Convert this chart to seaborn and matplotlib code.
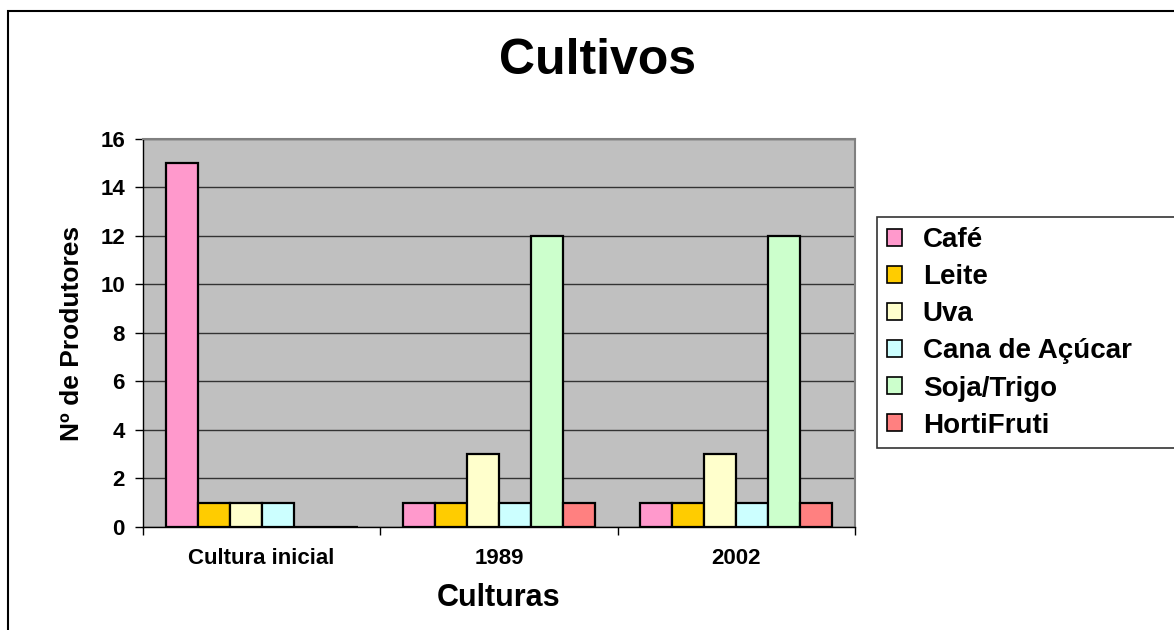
import seaborn as sns
import pandas as pd
from matplotlib import pyplot as plt
from matplotlib.patches import Rectangle

periods = ['Cultura inicial', '1989', '2002']
crops = ['Café', 'Leite', 'Uva', 'Cana de Açúcar', 'Soja/Trigo', 'HortiFruti']
colors = ['#FF99CC', '#FFCC00', '#FFFFCC', '#CCFFFF', '#CCFFCC', '#FF8080']

cafe = [15, 1, 1]
leite = [1, 1, 1]
uva = [1, 3, 3]
cana = [1, 1, 1]
soja = [0, 12, 12]
horti = [0, 1, 1]

yticks = [0, 2, 4, 6, 8, 10, 12, 14, 16]

rows = []
for crop, vals in zip(crops, [cafe, leite, uva, cana, soja, horti]):
    for per, v in zip(periods, vals):
        rows.append({'periodo': per, 'cultivo': crop, 'n': v})
df = pd.DataFrame(rows)

sns.set_style('white')
plt.rcParams['font.family'] = ['Liberation Sans', 'DejaVu Sans']
plt.rcParams['font.weight'] = 'bold'
plt.rcParams['text.color'] = 'black'
plt.rcParams['axes.labelcolor'] = 'black'
plt.rcParams['xtick.color'] = 'black'
plt.rcParams['ytick.color'] = 'black'

fig = plt.figure(figsize=(11.74, 6.30), dpi=100)
ax = fig.add_axes([0.1218, 0.1635, 0.6065, 0.616])
ax.set_facecolor('#C0C0C0')

sns.barplot(data=df, x='periodo', y='n', hue='cultivo', order=periods,
            hue_order=crops, palette=colors, saturation=1, width=0.81, gap=0,
            edgecolor='black', linewidth=1.6, ax=ax)

ax.set_ylim(0, 16)
ax.set_xlim(-0.5, 2.5)
ax.set_yticks(yticks)
ax.yaxis.grid(True, color='#333333', linewidth=1.0)
ax.set_axisbelow(True)

for side in ['top', 'right']:
    ax.spines[side].set_color('#808080')
    ax.spines[side].set_linewidth(1.5)
for side in ['left', 'bottom']:
    ax.spines[side].set_color('black')
    ax.spines[side].set_linewidth(1.0)

ax.tick_params(axis='y', which='major', direction='out', length=6, width=1,
               color='black', pad=7, labelsize=16, left=True)
ax.tick_params(axis='x', which='major', length=0, pad=15, labelsize=16)
ax.set_xticks([-0.5, 0.5, 1.5, 2.5], minor=True)
ax.tick_params(axis='x', which='minor', direction='out', length=6, width=1,
               color='black', bottom=True)
for lab in ax.get_xticklabels() + ax.get_yticklabels():
    lab.set_fontweight('bold')

ax.set_xlabel('Culturas', fontsize=22, fontweight='bold', labelpad=10)
ax.set_ylabel('Nº de Produtores', fontsize=19, fontweight='bold', labelpad=12)

leg = ax.legend(loc='upper left', bbox_to_anchor=(0.747, 0.29, 0.3, 0.365),
                bbox_transform=fig.transFigure, mode='expand', ncol=1,
                frameon=True, fancybox=False, edgecolor='black',
                prop={'size': 20, 'weight': 'bold'}, handlelength=0.55,
                handleheight=0.55, handletextpad=0.75, labelspacing=0.4,
                borderpad=0.35, borderaxespad=0)
leg.get_frame().set_linewidth(1.2)
for h in leg.legend_handles:
    h.set_edgecolor('black')
    h.set_linewidth(1.2)

fig.text(0.509, 0.903, 'Cultivos', ha='center', va='center',
         fontsize=36, fontweight='bold')

fig.add_artist(Rectangle((8 / 1174, -0.1), 1.2, 1.1 - 11 / 630,
                         transform=fig.transFigure, fill=False,
                         edgecolor='black', linewidth=1.5))

fig.savefig('out.png', dpi=100)
